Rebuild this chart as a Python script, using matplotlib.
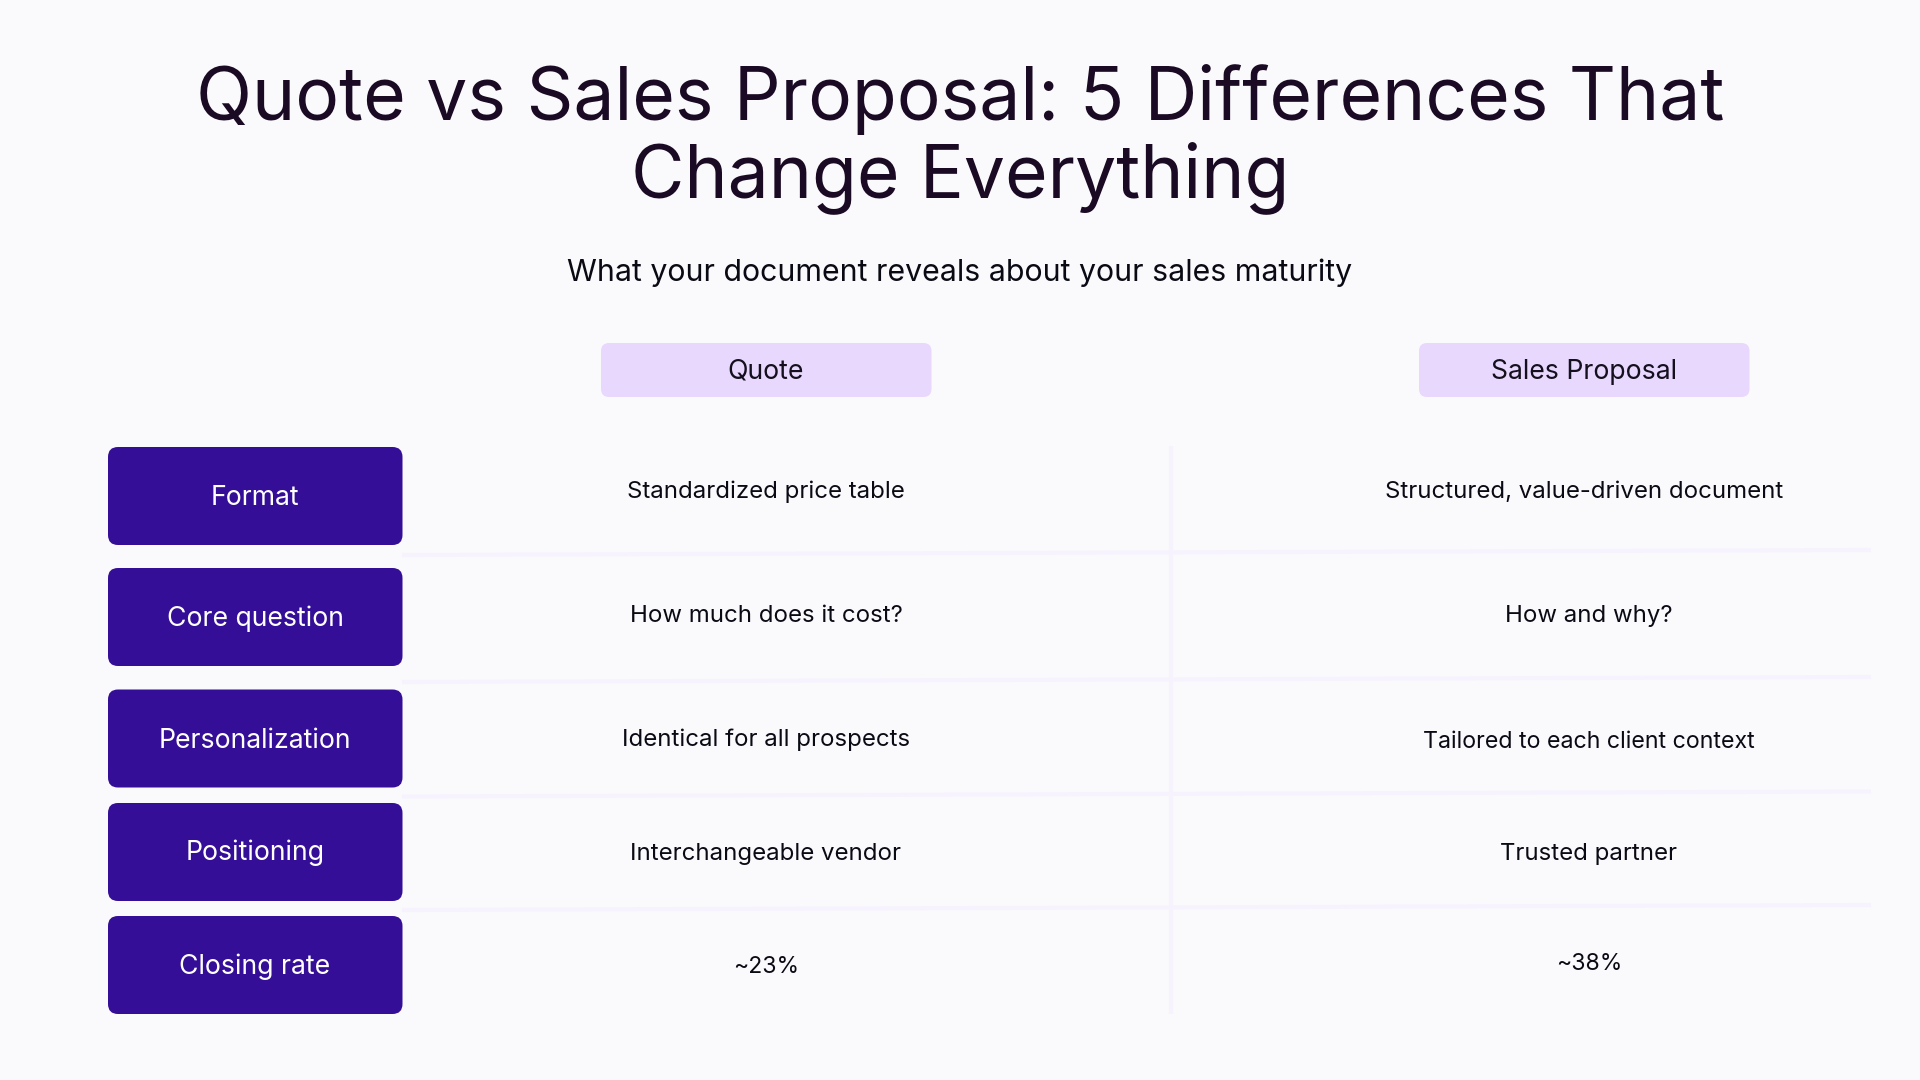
import matplotlib
matplotlib.use('Agg')
import matplotlib.pyplot as plt
from matplotlib.patches import FancyBboxPatch

# Text content
TITLE_LINES = ['Quote vs Sales Proposal: 5 Differences That', 'Change Everything']
SUBTITLE = 'What your document reveals about your sales maturity'
COLUMNS = ['Quote', 'Sales Proposal']
ROW_LABELS = ['Format', 'Core question', 'Personalization', 'Positioning', 'Closing rate']
QUOTE_VALUES = ['Standardized price table', 'How much does it cost?',
                'Identical for all prospects', 'Interchangeable vendor', '~23%']
PROPOSAL_VALUES = ['Structured, value-driven document', 'How and why?',
                   'Tailored to each client context', 'Trusted partner', '~38%']

# Colours
BACKGROUND = '#fafafc'
DARK = '#1a0a24'
PURPLE = '#340e96'
LILAC = '#e9d8fd'
GRID = '#f7f3fe'

# Layout in pixels of the 1920x1080 canvas
ROW_TOPS = [447, 568, 689.5, 803, 916]
ROW_HEIGHT = 98
LABEL_BASELINES = [505, 626.5, 747.5, 860.5, 974.5]
QUOTE_BASELINES = [498, 622, 746, 860, 973]
PROPOSAL_BASELINES = [498, 622, 748, 860, 970]
PROPOSAL_CENTERS = [1584, 1589, 1589, 1589, 1589]
QUOTE_SIZES = [24, 24, 24, 24, 23]
PROPOSAL_SIZES = [24, 24, 23.2, 24, 23]
DIVIDERS = [(555, 550), (682, 677), (796.5, 791.5), (910, 905)]

plt.rcParams['font.family'] = ['Inter', 'DejaVu Sans']

fig = plt.figure(figsize=(19.2, 10.8), dpi=100, facecolor=BACKGROUND)
ax = fig.add_axes([0, 0, 1, 1])
ax.set_xlim(0, 1920)
ax.set_ylim(1080, 0)
ax.axis('off')


def px(size):
    # font size given in canvas pixels
    return size * 72 / fig.dpi


def rounded(x0, y0, w, h, color, radius):
    ax.add_patch(FancyBboxPatch((x0, y0), w, h, boxstyle=f'round,pad=0,rounding_size={radius}',
                                facecolor=color, edgecolor='none', zorder=2))


# Title block
ax.text(960, 120, TITLE_LINES[0], ha='center', va='baseline', color=DARK, fontsize=px(73.1))
ax.text(960, 197, TITLE_LINES[1], ha='center', va='baseline', color=DARK, fontsize=px(73.1))
ax.text(960, 281, SUBTITLE, ha='center', va='baseline', color='#0a0a14', fontsize=px(30.3))

# Column headers
for name, left in zip(COLUMNS, [601, 1419]):
    rounded(left, 343, 330.5, 54, LILAC, 8)
    ax.text(left + 165, 379, name, ha='center', va='baseline', color='#14101e', fontsize=px(26.7))

# Grid lines
ax.plot([1170.6, 1170.6], [446, 1014], color=GRID, lw=3, solid_capstyle='butt', zorder=1)
for y_left, y_right in DIVIDERS:
    ax.plot([402, 1871], [y_left, y_right], color=GRID, lw=3, solid_capstyle='butt', zorder=1)

# Rows
for i, label in enumerate(ROW_LABELS):
    rounded(108, ROW_TOPS[i], 294.5, ROW_HEIGHT, PURPLE, 10)
    ax.text(255, LABEL_BASELINES[i], label, ha='center', va='baseline', color='white',
            fontsize=px(26.7), zorder=3)
    ax.text(766, QUOTE_BASELINES[i], QUOTE_VALUES[i], ha='center', va='baseline',
            color='#0a0a14', fontsize=px(QUOTE_SIZES[i]), zorder=3)
    ax.text(PROPOSAL_CENTERS[i], PROPOSAL_BASELINES[i], PROPOSAL_VALUES[i], ha='center',
            va='baseline', color='#0a0a14', fontsize=px(PROPOSAL_SIZES[i]), zorder=3)

fig.savefig('out.png', dpi=100, facecolor=BACKGROUND)
